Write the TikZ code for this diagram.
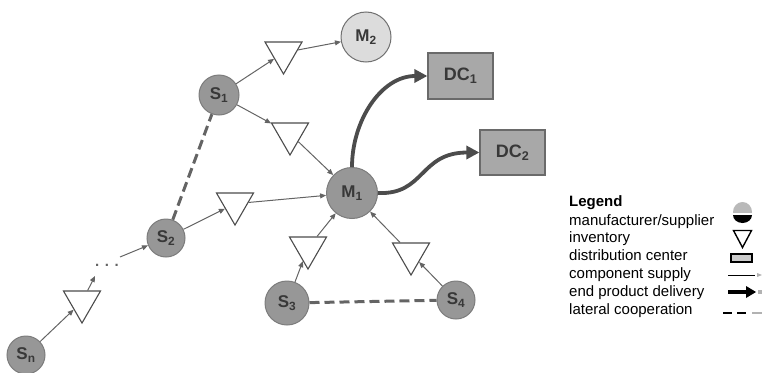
\documentclass[tikz,border=0pt]{standalone}
\usepackage{fontspec}
\setmainfont{Liberation Sans}
\usetikzlibrary{arrows.meta,shapes.geometric}

\definecolor{nodefill}{HTML}{979797}
\definecolor{nodeedge}{HTML}{7C7C7C}
\definecolor{lightfill}{HTML}{DCDCDC}
\definecolor{boxfill}{HTML}{A8A8A8}
\definecolor{boxedge}{HTML}{6A6A6A}
\definecolor{wire}{HTML}{646464}
\definecolor{heavy}{HTML}{4C4C4C}
\definecolor{labeltext}{HTML}{383838}

\tikzset{
  party/.style={circle, draw=nodeedge, fill=nodefill, line width=1pt, inner sep=0pt,
    text=labeltext, font=\fontsize{17}{17}\selectfont\bfseries},
  plant/.style={party, fill=lightfill, draw=nodeedge!90!black},
  center/.style={rectangle, draw=boxedge, fill=boxfill, line width=1.2pt, inner sep=0pt,
    minimum width=65pt, minimum height=46pt, text=labeltext,
    font=\fontsize{18}{18}\selectfont\bfseries},
  stock/.style={regular polygon, regular polygon sides=3, shape border rotate=180,
    draw=heavy, fill=white, line width=1.1pt, minimum size=42.7pt, inner sep=0pt},
  supply/.style={draw=wire, line width=1pt, -{Triangle[length=6pt,width=5pt]}},
  delivery/.style={draw=heavy, line width=3.8pt, -{Triangle[length=13pt,width=13pt]}},
  lateral/.style={draw=wire, line width=3pt, dash pattern=on 10pt off 5pt},
  legendtext/.style={anchor=base west, inner sep=0pt, font=\fontsize{15}{15}\selectfont},
}

\begin{document}
\begin{tikzpicture}[x=1pt, y=-1pt]
\useasboundingbox (0,0) rectangle (762,372);

% manufacturers, suppliers and distribution centres
\node[plant, minimum size=50pt] (M2) at (366,37) {M\textsubscript{2}};
\node[party, minimum size=51pt] (M1) at (352,193) {M\textsubscript{1}};
\node[party, minimum size=40pt] (S1) at (219,95) {S\textsubscript{1}};
\node[party, minimum size=38pt] (S2) at (166,238) {S\textsubscript{2}};
\node[party, minimum size=44pt] (S3) at (287,303) {S\textsubscript{3}};
\node[party, minimum size=38pt] (S4) at (456,300) {S\textsubscript{4}};
\node[party, minimum size=38pt] (Sn) at (26,355) {S\textsubscript{n}};
\node[center] (DC1) at (460.5,76) {DC\textsubscript{1}};
\node[center, minimum height=45pt] (DC2) at (512.5,152.5) {DC\textsubscript{2}};

% inventories
\node[stock] (T1) at (283.5,52.7) {};
\node[stock] (T2) at (290,133.7) {};
\node[stock] (T3) at (235,203.7) {};
\node[stock] (T4) at (82,301.7) {};
\node[stock] (T5) at (308,247.7) {};
\node[stock] (T6) at (411,253.7) {};

% open ends of the elided supply chain
\coordinate (gapin) at (95,276);
\coordinate (gapout) at (120,257);
\node[inner sep=0pt, text=wire, font=\fontsize{15}{15}\selectfont\bfseries] (gap) at (107,265) {. . .};

% lateral cooperation
\draw[lateral] (S2) -- (S1);
\draw[lateral] (S3) -- (S4);

% component supply
\draw[supply] (S1) -- (T1);
\draw[supply] (T1) -- (M2);
\draw[supply] (S1) -- (T2);
\draw[supply] (T2) -- (M1);
\draw[supply] (S2) -- (T3);
\draw[supply] (T3) -- (M1);
\draw[supply] (Sn) -- (T4);
\draw[supply] (T4) -- (gapin);
\draw[supply] (gapout) -- (S2);
\draw[supply] (S3) -- (T5);
\draw[supply] (T5) -- (M1);
\draw[supply] (S4) -- (T6);
\draw[supply] (T6) -- (M1);

% end product delivery
\draw[delivery] (M1.north) to[out=90, in=180] (DC1.west);
\draw[delivery] (M1.east) .. controls +(47,2) and +(-60,0) .. (DC2.west);

% legend
\node[legendtext, font=\fontsize{15}{15}\selectfont\bfseries] (lg) at (569,206) {Legend};
\node[legendtext] (l1) at (569,225) {manufacturer/supplier};
\node[legendtext] (l2) at (569,242.5) {inventory};
\node[legendtext] (l3) at (569,260.5) {distribution center};
\node[legendtext] (l4) at (569,278) {component supply};
\node[legendtext] (l5) at (569,296) {end product delivery};
\node[legendtext] (l6) at (569,314) {lateral cooperation};

% legend symbols
\begin{scope}
  \clip (730,200) rectangle (756,212);
  \fill[gray!55] (742.5,212) ellipse [x radius=9.5pt, y radius=10pt];
\end{scope}
\begin{scope}
  \clip (730,215) rectangle (756,226);
  \fill[black] (742.5,215) ellipse [x radius=9.5pt, y radius=8pt];
\end{scope}
\draw[line width=1.4pt, line join=miter] (733.5,230.5) -- (751.5,230.5) -- (742.5,247.5) -- cycle;
\draw[line width=1.4pt, fill=gray!40] (731,254) rectangle (752,262);
\draw[line width=0.9pt] (728,275) -- (755,275);
\fill[gray!60] (757,273) -- (762,275) -- (757,277) -- cycle;
\draw[line width=3.6pt] (728,292) -- (747,292);
\fill[black] (746,286) -- (756,292) -- (746,298) -- cycle;
\fill[gray!60] (758,290) rectangle (762,294);
\draw[line width=2.6pt, dash pattern=on 9pt off 5pt] (723,313) -- (746,313);
\draw[gray!60, line width=2.6pt] (752,313) -- (762,313);
\end{tikzpicture}
\end{document}
